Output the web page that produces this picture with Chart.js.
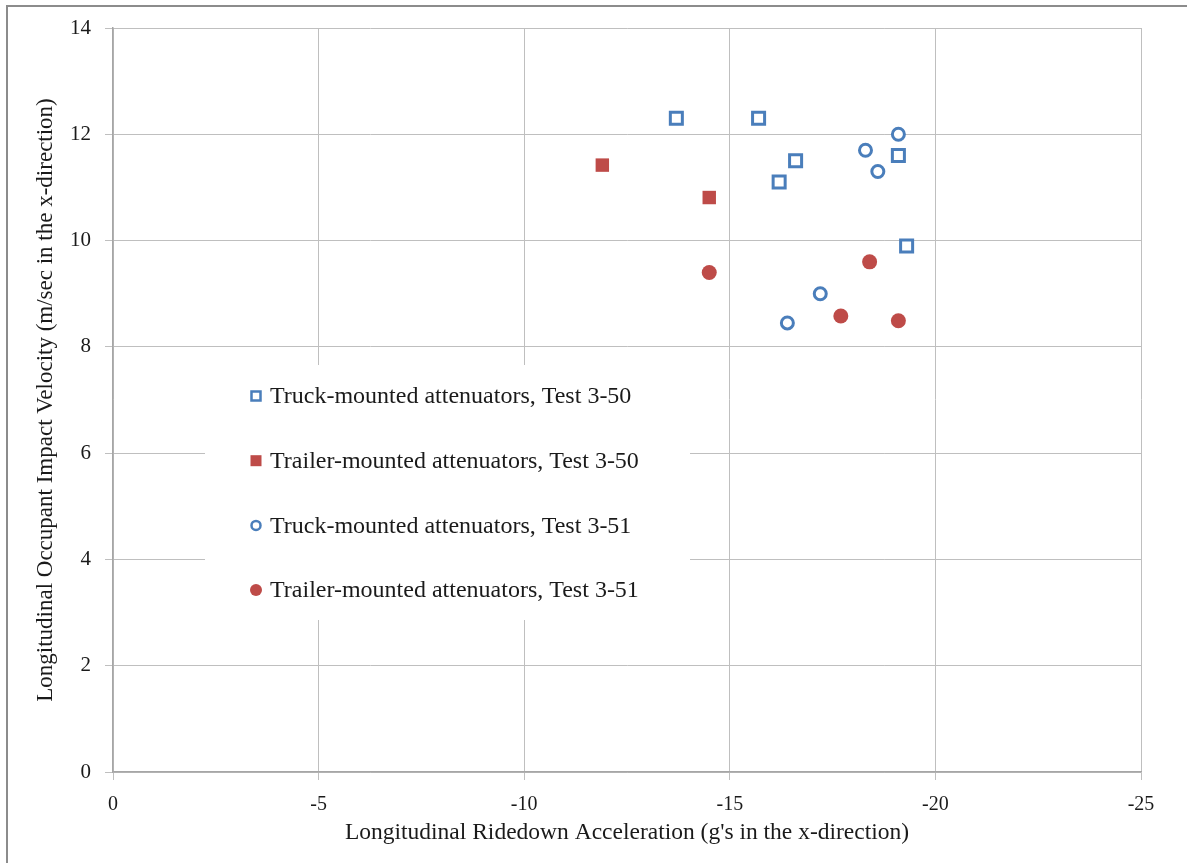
<!DOCTYPE html>
<html>
<head>
<meta charset="utf-8">
<title>Ridedown acceleration vs impact velocity</title>
<script src="https://cdn.jsdelivr.net/npm/chart.js@4.4.0/dist/chart.umd.min.js"></script>
<style>
  html, body { margin: 0; padding: 0; background: #fff; }
  #wrap { width: 1187px; height: 863px; }
</style>
</head>
<body>
<div id="wrap"><canvas id="myChart" width="1187" height="863"></canvas></div>
<script>
'use strict';

// values
const truck50X = [-13.7, -15.7, -16.6, -16.2, -19.1, -19.3];
const truck50Y = [12.3, 12.3, 11.5, 11.1, 11.6, 9.9];
const trailer50X = [-11.9, -14.5];
const trailer50Y = [11.42, 10.81];
const truck51X = [-19.1, -18.3, -18.6, -17.2, -16.4];
const truck51Y = [12.0, 11.7, 11.3, 9.0, 8.45];
const trailer51X = [-14.5, -18.4, -17.7, -19.1];
const trailer51Y = [9.4, 9.6, 8.58, 8.49];

const seriesNames = [
  'Truck-mounted attenuators, Test 3-50',
  'Trailer-mounted attenuators, Test 3-50',
  'Truck-mounted attenuators, Test 3-51',
  'Trailer-mounted attenuators, Test 3-51'
];

const xTitle = 'Longitudinal Ridedown Acceleration (g\'s in the x-direction)';
const yTitle = 'Longitudinal Occupant Impact Velocity (m/sec in the x-direction)';

const blue = '#4a7ebb';
const red = '#be4b48';
const serif = '"Liberation Serif", "Times New Roman", serif';

function toPoints(xs, ys) {
  let pts = [];
  for (let i = 0; i < xs.length; i++) {
    pts.push({ x: xs[i], y: ys[i] });
  }
  return pts;
}

// frame on the left and top like the original picture
const framePlugin = {
  id: 'frame',
  beforeDraw(chart) {
    let ctx = chart.ctx;
    ctx.save();
    ctx.fillStyle = '#fff';
    ctx.fillRect(0, 0, chart.width, chart.height);
    ctx.strokeStyle = '#8c8c8c';
    ctx.lineWidth = 2;
    ctx.beginPath();
    ctx.moveTo(7, chart.height);
    ctx.lineTo(7, 6);
    ctx.lineTo(chart.width, 6);
    ctx.stroke();
    ctx.restore();
  }
};

// legend sits in a white box inside the plot
const boxLegend = {
  id: 'boxLegend',
  beforeDatasetsDraw(chart) {
    let ctx = chart.ctx;
    let area = chart.chartArea;
    let left = area.left + 92;
    let top = area.top + 337;
    ctx.save();
    ctx.fillStyle = '#fff';
    ctx.fillRect(left, top, 485, 255);

    ctx.font = '24px ' + serif;
    ctx.textBaseline = 'middle';
    chart.data.datasets.forEach((ds, i) => {
      let cy = top + 31 + i * 64.7;
      let cx = left + 51;
      ctx.lineWidth = 2.5;
      ctx.strokeStyle = ds.borderColor;
      ctx.fillStyle = ds.backgroundColor;
      if (ds.pointStyle === 'rect') {
        if (ds.backgroundColor === '#fff') {
          ctx.fillRect(cx - 4.5, cy - 4.5, 9, 9);
          ctx.strokeRect(cx - 4.5, cy - 4.5, 9, 9);
        } else {
          ctx.fillRect(cx - 5.5, cy - 5.5, 11, 11);
        }
      } else {
        ctx.beginPath();
        if (ds.backgroundColor === '#fff') {
          ctx.arc(cx, cy, 4.5, 0, Math.PI * 2);
          ctx.fill();
          ctx.stroke();
        } else {
          ctx.arc(cx, cy, 6, 0, Math.PI * 2);
          ctx.fill();
        }
      }
      ctx.fillStyle = '#1a1a1a';
      ctx.fillText(ds.label, cx + 14, cy + 1);
    });
    ctx.restore();
  }
};

let canvasElem = document.getElementById('myChart').getContext('2d');

let myObj = {
  type: 'scatter',
  data: {
    datasets: [{
      label: seriesNames[0],
      data: toPoints(truck50X, truck50Y),
      pointStyle: 'rect',
      pointRadius: 8.5,
      borderWidth: 3,
      borderColor: blue,
      backgroundColor: '#fff'
    },
    {
      label: seriesNames[1],
      data: toPoints(trailer50X, trailer50Y),
      pointStyle: 'rect',
      pointRadius: 9.5,
      borderWidth: 0,
      borderColor: red,
      backgroundColor: red
    },
    {
      label: seriesNames[2],
      data: toPoints(truck51X, truck51Y),
      pointStyle: 'circle',
      pointRadius: 6,
      borderWidth: 3,
      borderColor: blue,
      backgroundColor: '#fff'
    },
    {
      label: seriesNames[3],
      data: toPoints(trailer51X, trailer51Y),
      pointStyle: 'circle',
      pointRadius: 7.5,
      borderWidth: 0,
      borderColor: red,
      backgroundColor: red
    }]
  },
  options: {
    responsive: false,
    animation: false,
    layout: {
      padding: { left: 12, top: 28, right: 46, bottom: 14 }
    },
    plugins: {
      legend: { display: false },
      tooltip: { enabled: false }
    },
    scales: {
      x: {
        type: 'linear',
        min: -25,
        max: 0,
        reverse: true,
        ticks: {
          stepSize: 5,
          color: '#1a1a1a',
          padding: 13,
          font: { family: serif, size: 20 }
        },
        grid: { color: '#bfbfbf', lineWidth: 1, tickLength: 8 },
        border: { color: '#a6a6a6', width: 1.5 },
        title: {
          display: true,
          text: xTitle,
          color: '#1a1a1a',
          font: { family: serif, size: 23.5 },
          padding: { top: 4, bottom: 2 }
        },
        afterFit(scale) { scale.height = 863 - 772 - 14; }
      },
      y: {
        type: 'linear',
        min: 0,
        max: 14,
        ticks: {
          stepSize: 2,
          color: '#1a1a1a',
          padding: 14,
          font: { family: serif, size: 21 }
        },
        grid: { color: '#bfbfbf', lineWidth: 1, tickLength: 8 },
        border: { color: '#a6a6a6', width: 1.5 },
        title: {
          display: true,
          text: yTitle,
          color: '#1a1a1a',
          font: { family: serif, size: 23 },
          padding: { top: 20, bottom: 4 }
        },
        afterFit(scale) { scale.width = 113 - 12; }
      }
    }
  },
  plugins: [framePlugin, boxLegend]
};

new Chart(canvasElem, myObj);
</script>
</body>
</html>
